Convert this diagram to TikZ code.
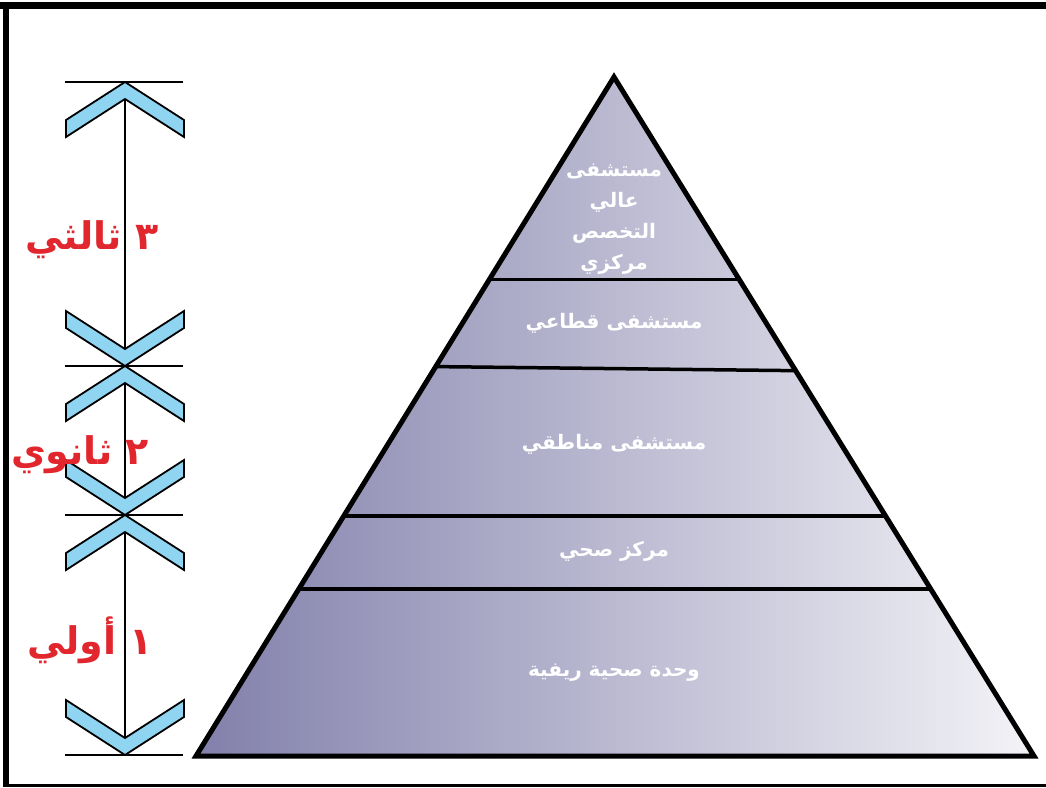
\documentclass[tikz,border=0pt]{standalone}
\usepackage{fontspec}
\usepackage{tikz}
\usetikzlibrary{calc,positioning}
\TeXXeTstate=1
\newfontfamily\arabicfont[Script=Arabic]{DejaVu Sans}
\definecolor{chevblue}{HTML}{8FD4F0}
\definecolor{levelred}{HTML}{E1262D}
\definecolor{pyrdark}{HTML}{8280AB}
\definecolor{pyrlight}{HTML}{F3F3F7}

\tikzset{
	chevup/.pic={\draw[fill=chevblue,line width=1.8pt] (0,0) -- (59,38) -- (59,55) -- (0,17) -- (-59,55) -- (-59,38) -- cycle;},
	chevdown/.pic={\draw[fill=chevblue,line width=1.8pt] (0,0) -- (59,-38) -- (59,-55) -- (0,-17) -- (-59,-55) -- (-59,-38) -- cycle;},
	level/.style={text=levelred,font=\arabicfont\bfseries\fontsize{38}{44}\selectfont},
	tier/.style={text=white,align=center,font=\arabicfont\bfseries\fontsize{20}{31}\selectfont},
	divider/.style={line width=3.5pt}
}

\begin{document}
\begin{tikzpicture}[x=1pt,y=-1pt]
		\useasboundingbox (0,0) rectangle (1046,787);
		% frame
		\draw[line width=7pt] (0,5.5) -- (1046,5.5);
		\draw[line width=6pt] (5.5,2) -- (5.5,787);
		\draw[line width=3pt] (5,785.5) -- (1046,785.5);

		% scale on the left
		\coordinate (s0) at (125,82);
		\coordinate (s1) at (125,366);
		\coordinate (s2) at (125,515);
		\coordinate (s3) at (125,755);
		\draw[line width=1.6pt] (s0) -- (s3);
		\foreach \p in {s0,s1,s2}
			\pic at (\p) {chevup};
		\foreach \p in {s1,s2,s3}
			\pic at (\p) {chevdown};
		\foreach \p in {s0,s1,s2,s3}
			\draw[line width=1.6pt] ($(\p)+(-60,0)$) -- ($(\p)+(58,0)$);

		\node(lvl3) [level] at (92,240) {\beginR ٣ ثالثي\endR};
		\node(lvl2) [level] at (80,455) {\beginR ٢ ثانوي\endR};
		\node(lvl1) [level] at (90,640) {\beginR ١ أولي\endR};

		% pyramid
		\coordinate (apex) at (614,77);
		\coordinate (bl) at (196,756);
		\coordinate (br) at (1034,756);
		\shade[left color=pyrdark,right color=pyrlight] (apex) -- (br) -- (bl) -- cycle;
		\draw[divider] ($(apex)!0.2985!(bl)$) -- ($(apex)!0.2985!(br)$);
		\draw[divider] ($(apex)!0.4265!(bl)$) -- ($(apex)!0.4325!(br)$);
		\draw[divider] ($(apex)!0.6465!(bl)$) -- ($(apex)!0.6465!(br)$);
		\draw[divider] ($(apex)!0.7540!(bl)$) -- ($(apex)!0.7540!(br)$);
		\draw[line width=5pt,line join=miter] (apex) -- (br) -- (bl) -- cycle;

		\node(t5) [tier] at (614,219) {\beginR مستشفى\endR\\\beginR عالي\endR\\\beginR التخصص\endR\\\beginR مركزي\endR};
		\node(t4) [tier] at (614,323) {\beginR مستشفى قطاعي\endR};
		\node(t3) [tier] at (614,444) {\beginR مستشفى مناطقي\endR};
		\node(t2) [tier] at (614,551) {\beginR مركز صحي\endR};
		\node(t1) [tier] at (614,673) {\beginR وحدة صحية ريفية\endR};
	\end{tikzpicture}
\end{document}
